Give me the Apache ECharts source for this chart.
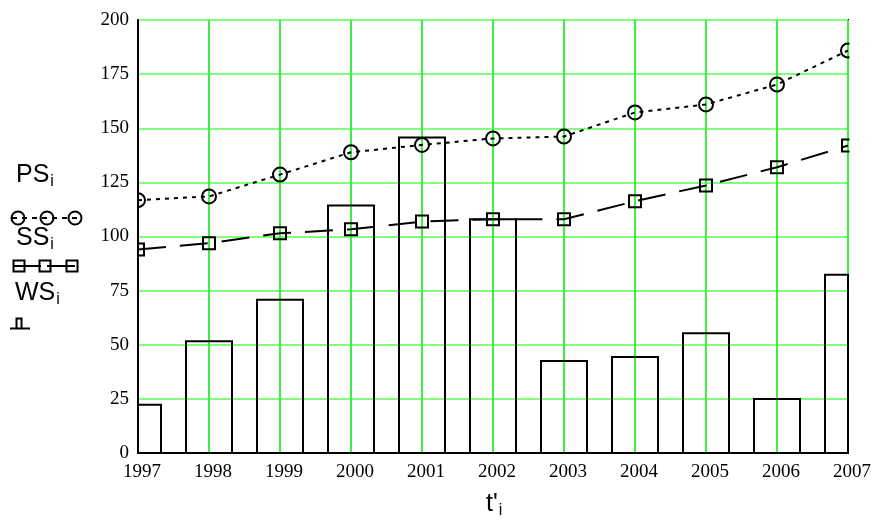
<!DOCTYPE html>
<html>
<head>
<meta charset="utf-8">
<title>PS, SS, WS</title>
<script src="https://cdn.jsdelivr.net/npm/echarts@6/dist/echarts.min.js"></script>
<style>
  html, body { margin: 0; padding: 0; background: #fff; }
  #chart { width: 877px; height: 525px; }
</style>
</head>
<body>
<div id="chart"></div>
<script>
// Years on the horizontal axis
const years = [1997, 1998, 1999, 2000, 2001, 2002, 2003, 2004, 2005, 2006, 2007];
// PS_i values (dotted line with circles)
const psValues = [116.8, 118.5, 128.6, 138.9, 142.3, 145.3, 146.2, 157.3, 161.0, 170.2, 185.9];
// SS_i values (dashed line with squares)
const ssValues = [94.0, 96.9, 101.5, 103.3, 106.9, 108.0, 108.0, 116.3, 123.6, 132.0, 142.0];
// WS_i values (bars)
const wsValues = [22.3, 51.6, 70.8, 114.3, 145.7, 108.0, 42.5, 44.3, 55.3, 24.9, 82.3];
// Axis ranges and ticks
const yTicks = [0, 25, 50, 75, 100, 125, 150, 175, 200];
const xMin = 1997, xMax = 2007;

const pair = (vals) => years.map((y, i) => [y, vals[i]]);

const serif = '"Liberation Serif", "Times New Roman", serif';
const sans = '"Liberation Sans", Arial, sans-serif';

const chart = echarts.init(document.getElementById('chart'), null, { renderer: 'canvas' });

const subRich = (size) => ({
  a: { fontFamily: sans, fontSize: size, color: '#000' },
  b: { fontFamily: sans, fontSize: 16, color: '#000', padding: [13, 0, 0, 1] }
});

// Open bars centred on each year, trimmed to the plot box
const BAR_HALF = 23;
function renderBar(params, api) {
  const x = api.value(0);
  const top = api.coord([x, api.value(1)]);
  const base = api.coord([x, 0]);
  const cs = params.coordSys;
  const shape = echarts.graphic.clipRectByRect(
    { x: top[0] - BAR_HALF, y: top[1], width: BAR_HALF * 2, height: base[1] - top[1] },
    { x: cs.x, y: cs.y, width: cs.width, height: cs.height }
  );
  if (!shape) return null;
  return {
    type: 'rect',
    shape: shape,
    style: { fill: 'none', stroke: '#000', lineWidth: 2 }
  };
}

chart.setOption({
  backgroundColor: '#fff',
  animation: false,
  grid: {
    left: 138, right: 29, top: 20, bottom: 72,
    show: true, borderColor: '#000', borderWidth: 2, backgroundColor: 'transparent'
  },
  xAxis: {
    type: 'value',
    min: xMin, max: xMax, interval: 1,
    axisLine: { show: true, lineStyle: { color: '#000', width: 2 } },
    axisTick: { show: false },
    axisLabel: {
      color: '#000', fontFamily: serif, fontSize: 19, margin: 10,
      padding: [0, 0, 0, 8],
      showMinLabel: true, showMaxLabel: true,
      formatter: (v) => String(v)
    },
    splitLine: { show: true, lineStyle: { color: '#3cf03c', width: 2 } }
  },
  yAxis: {
    type: 'value',
    min: yTicks[0], max: yTicks[yTicks.length - 1], interval: 25,
    axisLine: { show: true, lineStyle: { color: '#000', width: 2 } },
    axisTick: { show: false },
    axisLabel: {
      color: '#000', fontFamily: serif, fontSize: 19, margin: 9,
      padding: [9, 0, 0, 0],
      showMinLabel: true, showMaxLabel: true
    },
    splitLine: { show: true, lineStyle: { color: '#80ff80', width: 2 } }
  },
  series: [
    {
      name: 'WS',
      type: 'custom',
      data: pair(wsValues),
      encode: { x: 0, y: 1 },
      renderItem: renderBar,
      z: 2
    },
    {
      name: 'PS',
      type: 'line',
      data: pair(psValues),
      symbol: 'circle',
      symbolSize: 14,
      clip: true,
      lineStyle: { color: '#000', width: 2, type: [4, 5] },
      itemStyle: { color: 'rgba(0,0,0,0)', borderColor: '#000', borderWidth: 2 },
      z: 3
    },
    {
      name: 'SS',
      type: 'line',
      data: pair(ssValues),
      symbol: 'rect',
      symbolSize: 12,
      clip: true,
      lineStyle: { color: '#000', width: 2, type: [28, 14] },
      itemStyle: { color: 'rgba(0,0,0,0)', borderColor: '#000', borderWidth: 2 },
      z: 3
    }
  ],
  graphic: {
    elements: [
      // white strips trimming the edge markers to the plot box
      { type: 'rect', id: 'maskL', z: 100, zlevel: 1, shape: { x: 130, y: 0, width: 7, height: 452 }, style: { fill: '#fff' } },
      { type: 'rect', id: 'maskR', z: 100, zlevel: 1, shape: { x: 849.5, y: 0, width: 28, height: 452 }, style: { fill: '#fff' } },

      // series key on the left
      { type: 'text', z: 60, left: 16, top: 163, style: { text: '{a|PS}{b|i}', rich: subRich(25) } },
      { type: 'line', z: 60, shape: { x1: 12, y1: 218, x2: 82, y2: 218 },
        style: { stroke: '#000', lineWidth: 2, lineDash: [5, 5] } },
      { type: 'circle', z: 61, shape: { cx: 18, cy: 218, r: 6.5 }, style: { fill: 'none', stroke: '#000', lineWidth: 2 } },
      { type: 'circle', z: 61, shape: { cx: 47, cy: 218, r: 6.5 }, style: { fill: 'none', stroke: '#000', lineWidth: 2 } },
      { type: 'circle', z: 61, shape: { cx: 75, cy: 218, r: 6.5 }, style: { fill: 'none', stroke: '#000', lineWidth: 2 } },

      { type: 'text', z: 60, left: 16, top: 226, style: { text: '{a|SS}{b|i}', rich: subRich(25) } },
      { type: 'line', z: 60, shape: { x1: 13, y1: 266, x2: 78, y2: 266 },
        style: { stroke: '#000', lineWidth: 2, lineDash: [28, 6] } },
      { type: 'rect', z: 61, shape: { x: 13.5, y: 260.5, width: 11, height: 11 }, style: { fill: 'none', stroke: '#000', lineWidth: 2 } },
      { type: 'rect', z: 61, shape: { x: 39.5, y: 260.5, width: 11, height: 11 }, style: { fill: 'none', stroke: '#000', lineWidth: 2 } },
      { type: 'rect', z: 61, shape: { x: 66.5, y: 260.5, width: 11, height: 11 }, style: { fill: 'none', stroke: '#000', lineWidth: 2 } },

      { type: 'text', z: 60, left: 15, top: 281, style: { text: '{a|WS}{b|i}', rich: subRich(25) } },
      { type: 'polyline', z: 60, shape: { points: [[16.5, 328], [16.5, 318.5], [21.5, 318.5], [21.5, 328]] },
        style: { fill: 'none', stroke: '#000', lineWidth: 2 } },
      { type: 'line', z: 60, shape: { x1: 10, y1: 328.5, x2: 30, y2: 328.5 }, style: { stroke: '#000', lineWidth: 2 } },

      // horizontal axis title
      { type: 'text', z: 60, left: 486, top: 492, style: { text: "{a|t'}{b|i}", rich: subRich(25) } }
    ]
  }
});
</script>
</body>
</html>
